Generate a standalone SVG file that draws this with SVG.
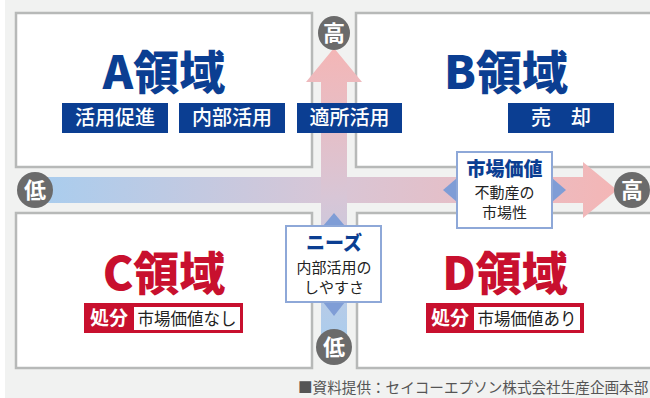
<svg xmlns="http://www.w3.org/2000/svg" width="650" height="398" viewBox="0 0 650 398">
<defs>
<linearGradient id="gh" gradientUnits="userSpaceOnUse" x1="40" y1="0" x2="617" y2="0">
<stop offset="0" stop-color="#a9cdee"/>
<stop offset="0.5" stop-color="#d8c6d6"/>
<stop offset="1" stop-color="#f4b6b6"/>
</linearGradient>
<linearGradient id="gv" gradientUnits="userSpaceOnUse" x1="0" y1="48" x2="0" y2="345">
<stop offset="0" stop-color="#f4b6b6"/>
<stop offset="0.5" stop-color="#d8c6d6"/>
<stop offset="1" stop-color="#a9cdee"/>
</linearGradient>
<style>
.q{fill:#fff;stroke:#b7b9b8;stroke-width:2.5}
.big{font-family:"Noto Sans CJK JP","Noto Sans",sans-serif;font-weight:900;font-size:46px;text-anchor:middle}
.blue{fill:#0b3e92}
.red{fill:#c8102e}
.tag{fill:#0b3e92}
.tagt{font-family:"Noto Sans CJK JP",sans-serif;font-size:20px;font-weight:500;fill:#fff;text-anchor:middle}
.dis{font-family:"Noto Sans CJK JP",sans-serif;font-size:19px;font-weight:bold;fill:#fff;text-anchor:middle}
.dist{font-family:"Noto Sans CJK JP",sans-serif;font-size:16.5px;fill:#222;text-anchor:middle}
.circ{fill:#6b6b6b}
.ct{font-family:"Noto Sans CJK JP",sans-serif;font-size:22px;font-weight:bold;fill:#fff;text-anchor:middle}
.lbox{fill:#fff;stroke:#8ea8d8;stroke-width:2}
.tri{fill:#7f9dd6}
.lh{font-family:"Noto Sans CJK JP",sans-serif;font-size:19px;font-weight:900;fill:#0b3e92;text-anchor:middle}
.ls{font-family:"Noto Sans CJK JP",sans-serif;font-size:15px;fill:#222;text-anchor:middle}
.foot{font-family:"Noto Sans CJK JP",sans-serif;font-size:14.6px;fill:#555}
</style>
</defs>
<rect x="0" y="0" width="650" height="398" fill="#fff"/>
<rect x="5" y="0" width="645" height="398" fill="#f1f2f1"/>

<g id="quadA"><rect class="q" x="16" y="13" width="296" height="154"/>
<text class="big blue" x="164" y="89">A領域</text>
<rect class="tag" x="62" y="103" width="106" height="30"/><text class="tagt" x="115" y="125">活用促進</text>
<rect class="tag" x="179" y="103" width="106" height="30"/><text class="tagt" x="232" y="125">内部活用</text>
</g>
<g id="quadB"><rect class="q" x="356" y="13" width="300" height="154"/>
<text class="big blue" x="506" y="89">B領域</text>
<rect class="tag" x="508" y="103" width="106" height="30"/><text class="tagt" x="561" y="125">売　却</text>
</g>
<g id="quadC"><rect class="q" x="16" y="213" width="296" height="155"/>
<text class="big red" x="164" y="290">C領域</text>
<rect fill="#c8102e" x="84" y="303" width="159" height="30"/>
<rect fill="#fff" x="134" y="307" width="106" height="23"/>
<text class="dis" x="109" y="325">処分</text><text class="dist" x="187" y="325">市場価値なし</text>
</g>
<g id="quadD"><rect class="q" x="357" y="213" width="300" height="155"/>
<text class="big red" x="505" y="290">D領域</text>
<rect fill="#c8102e" x="426" y="303" width="158" height="30"/>
<rect fill="#fff" x="474" y="307" width="106" height="23"/>
<text class="dis" x="450" y="325">処分</text><text class="dist" x="527" y="325">市場価値あり</text>
</g>

<g id="connectors">
<path d="M34 177 H583 V162 L617 190 L583 218 V203 H34 Z" fill="url(#gh)"/>
<path d="M321 347 V82 H306 L334 48 L362 82 H347 V347 Z" fill="url(#gv)"/>
</g>

<g id="tagA3"><rect class="tag" x="297" y="103" width="105" height="30"/><text class="tagt" x="349.5" y="125">適所活用</text></g>

<g id="lowLeft"><circle class="circ" cx="35" cy="190" r="18"/><text class="ct" x="35" y="198">低</text></g>
<g id="highRight"><circle class="circ" cx="632" cy="190" r="18"/><text class="ct" x="632" y="198">高</text></g>
<g id="highTop"><ellipse class="circ" cx="334" cy="33" rx="16" ry="17"/><text class="ct" x="334" y="41">高</text></g>
<g id="lowBottom"><circle class="circ" cx="334" cy="347" r="18"/><text class="ct" x="334" y="355">低</text></g>

<g id="needs">
<path class="tri" d="M323 226 L334 213 L345 226 Z"/>
<path class="tri" d="M323 302 L334 316 L345 302 Z"/>
<rect class="lbox" x="286" y="226" width="95" height="76"/>
<text class="lh" x="334" y="250">ニーズ</text>
<text class="ls" x="334" y="273">内部活用の</text>
<text class="ls" x="334" y="293">しやすさ</text>
</g>
<g id="market">
<path class="tri" d="M457 178 L443 190 L457 202 Z"/>
<path class="tri" d="M552 178 L566 190 L552 202 Z"/>
<rect class="lbox" x="457" y="152" width="95" height="76"/>
<text class="lh" x="504.5" y="176">市場価値</text>
<text class="ls" x="504.5" y="198">不動産の</text>
<text class="ls" x="504.5" y="218">市場性</text>
</g>
<text class="foot" x="298" y="393">■資料提供：セイコーエプソン株式会社生産企画本部</text>
</svg>
